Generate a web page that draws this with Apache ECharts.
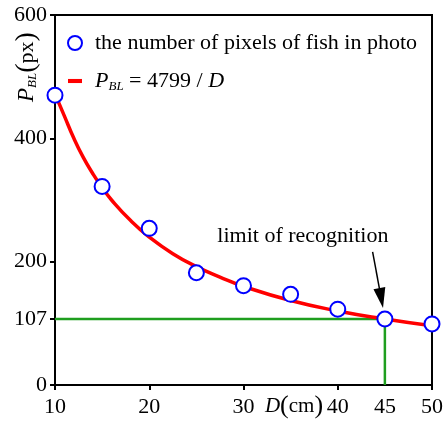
<!DOCTYPE html>
<html><head><meta charset="utf-8">
<script src="https://cdn.jsdelivr.net/npm/echarts@6/dist/echarts.min.js"></script>
<style>html,body{margin:0;padding:0;background:#fff}#c{width:446px;height:423px}</style>
</head><body><div id="c"></div>
<script>
// measured points
const distances = [10, 15, 20, 25, 30, 35, 40, 45, 50];
const pixelCounts = [470, 322, 254, 182, 161, 147, 123, 107, 99];
// fitted curve P_BL = 4799 / D
const curveD = [10, 11, 12, 13, 14, 15, 16, 18, 20, 22.5, 25, 27.5, 30, 35, 40, 45, 50];
const curveP = [472, 436, 400, 369, 343, 320, 300, 267, 240, 213, 192, 175, 160, 137, 120, 107, 96];
// limit of recognition guide lines
const limitD = [10, 45, 45];
const limitP = [107, 107, 0];
// arrow (start, head centre) in data units
const arrowD = [43.7, 44.61];
const arrowP = [216, 141];
const annotationPos = [36.3, 241];
const xTickLabels = [10, 20, 30, 40, 45, 50];
const xTicks = [10, 20, 30, 40, 50];
const yTickLabels = [0, 107, 200, 400, 600];

const FONT = 'Liberation Serif';
const chart = echarts.init(document.getElementById('c'), null, {renderer: 'canvas'});

const option = {
  animation: false,
  backgroundColor: '#fff',
  textStyle: {fontFamily: FONT, color: '#000'},
  grid: {left: 55, right: 14, top: 15, bottom: 38, show: true, borderColor: '#000', borderWidth: 2, outerBoundsMode: 'none', containLabel: false},
  legend: {
    orient: 'vertical', left: 62, top: 27, itemGap: 16, itemWidth: 14, itemHeight: 14,
    textStyle: {fontFamily: FONT, fontSize: 22, color: '#000', padding: [0, 0, 0, 8],
      rich: {
        i: {fontFamily: FONT, fontStyle: 'italic', fontSize: 22, color: '#000'},
        sub: {fontFamily: FONT, fontStyle: 'italic', fontSize: 13, color: '#000', padding: [11, 0, 0, 0]},
        n: {fontFamily: FONT, fontSize: 22, color: '#000'}
      }},
    formatter: function (name) {
      if (name === 'fit') return '{i|P}{sub|BL}{n| = 4799 / }{i|D}';
      return name;
    },
    data: [
      {name: 'the number of pixels of fish in photo', icon: 'circle'},
      {name: 'fit', icon: 'path://M0,0 L12,0 L12,3.5 L0,3.5 Z', itemStyle: {color: '#ff0000', borderWidth: 0}}
    ]
  },
  xAxis: {
    type: 'value', min: 10, max: 50, interval: 10,
    axisLine: {show: true, lineStyle: {color: '#000', width: 2}},
    axisTick: {show: true, length: 5, inside: false, lineStyle: {color: '#000', width: 2}, customValues: xTicks},
    axisLabel: {fontFamily: FONT, fontSize: 22, color: '#000', margin: 11, customValues: xTickLabels},
    splitLine: {show: false}
  },
  yAxis: {
    type: 'value', min: 0, max: 600, interval: 200,
    axisLine: {show: true, lineStyle: {color: '#000', width: 2}},
    axisTick: {show: true, length: 5, inside: false, lineStyle: {color: '#000', width: 2}, customValues: yTickLabels},
    axisLabel: {fontFamily: FONT, fontSize: 22, color: '#000', margin: 8, customValues: yTickLabels},
    splitLine: {show: false}
  },
  series: [
    {
      name: 'limit', type: 'line', data: limitD.map((d, i) => [d, limitP[i]]),
      symbol: 'none', lineStyle: {color: '#1f9e1f', width: 2.5}, z: 2, silent: true,
      markLine: {
        silent: true, symbol: ['none', 'triangle'], symbolSize: [12, 20],
        lineStyle: {color: '#000', width: 1.5, type: 'solid'},
        label: {show: false},
        data: [[{coord: [arrowD[0], arrowP[0]]}, {coord: [arrowD[1], arrowP[1]]}]]
      }
    },
    {
      name: 'fit', type: 'line', data: curveD.map((d, i) => [d, curveP[i]]),
      smooth: true, symbol: 'none', lineStyle: {color: '#ff0000', width: 3.5}, itemStyle: {color: '#ff0000'}, z: 3
    },
    {
      name: 'the number of pixels of fish in photo', type: 'scatter',
      data: distances.map((d, i) => [d, pixelCounts[i]]),
      symbol: 'circle', symbolSize: 15,
      itemStyle: {color: '#fff', borderColor: '#0000ff', borderWidth: 2, opacity: 1}, z: 5
    }
  ]
};
chart.setOption(option);

const ann = chart.convertToPixel({gridIndex: 0}, annotationPos);
chart.setOption({
  graphic: [
    {type: 'text', x: ann[0], y: ann[1],
      style: {text: 'limit of recognition', font: '22px "Liberation Serif"', fill: '#000', align: 'center', verticalAlign: 'middle'}},
    {type: 'text', x: 27, y: 67, rotation: Math.PI / 2,
      style: {
        text: '{i|P}{sub|BL}{p|(}{n|px}{p|)}', align: 'center', verticalAlign: 'middle',
        rich: {
          i: {fontFamily: FONT, fontStyle: 'italic', fontSize: 23, fill: '#000'},
          sub: {fontFamily: FONT, fontStyle: 'italic', fontSize: 13, fill: '#000', padding: [12, 0, 0, 0]},
          p: {fontFamily: FONT, fontSize: 28, fill: '#000'},
          n: {fontFamily: FONT, fontSize: 22, fill: '#000'}
        }
      }},
    {type: 'text', x: 294, y: 406,
      style: {
        text: '{i|D}{p|(}{n|cm}{p|)}', align: 'center', verticalAlign: 'middle',
        rich: {
          i: {fontFamily: FONT, fontStyle: 'italic', fontSize: 21, fill: '#000'},
          p: {fontFamily: FONT, fontSize: 26, fill: '#000'},
          n: {fontFamily: FONT, fontSize: 21, fill: '#000'}
        }
      }}
  ]
});
</script></body></html>
